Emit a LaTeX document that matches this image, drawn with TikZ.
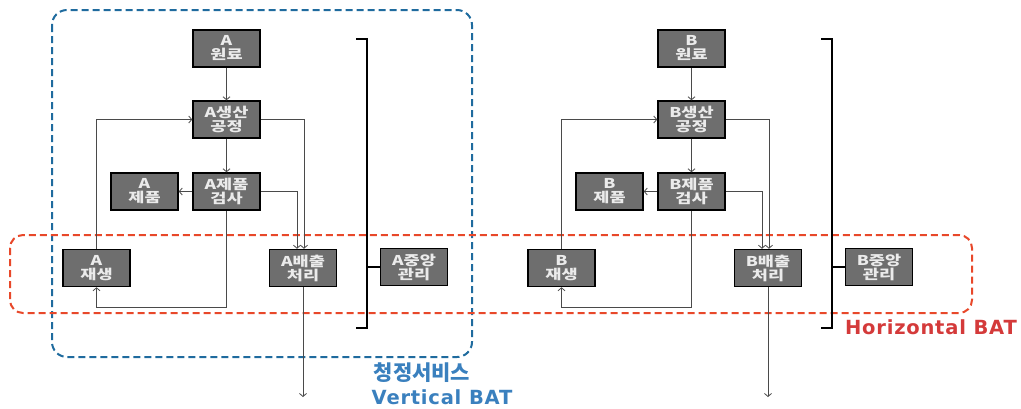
\documentclass[tikz,border=0pt]{standalone}
\usepackage{fontspec}
\newfontfamily\kr{Noto Sans CJK KR}[FakeStretch=1.3]
\newfontfamily\krlab{Noto Sans CJK KR}
\newfontfamily\dv{DejaVu Sans}[LetterSpace=4]
\usetikzlibrary{arrows.meta}
\definecolor{boxgray}{HTML}{6E6E6E}
\definecolor{linegray}{HTML}{4A4A4A}
\definecolor{vblue}{HTML}{1F6B9E}
\definecolor{lblue}{HTML}{3A80BE}
\definecolor{hred}{HTML}{E8482A}
\definecolor{lred}{HTML}{D43A3A}
\begin{document}
\begin{tikzpicture}[x=1pt,y=-1pt,
  box/.style={draw=black,line width=1.5pt,fill=boxgray,minimum width=67pt,minimum height=37pt,inner sep=0pt,align=center,text=white!92!black,font=\kr\bfseries\fontsize{13.5}{14}\selectfont},
  conn/.style={draw=linegray,line width=0.8pt},
  arr/.style={conn,-{Straight Barb[length=3pt,width=7pt]}},
  brk/.style={draw=black,line width=2pt},
  vbox/.style={draw=vblue,line width=2pt,dash pattern=on 7pt off 4pt,rounded corners=15pt},
  hbox/.style={draw=hred,line width=2pt,dash pattern=on 7pt off 4pt,rounded corners=13pt},
]
\useasboundingbox (0,0) rectangle (1021,408);
\draw[vbox] (52,10) rectangle (472,357);
\draw[hbox] (10,235) rectangle (972,313);
\foreach \X/\dx in {A/0,B/465}{
\begin{scope}[xshift=\dx pt]
  \node[box] (\X raw)  at (226.5,48.5) {\X\\원료};
  \node[box] (\X prod) at (226.5,119.5) {\X{}생산\\공정};
  \node[box] (\X insp) at (226.5,191.5) {\X{}제품\\검사};
  \node[box] (\X prd)  at (144.5,191.5) {\X\\제품};
  \node[box] (\X reg)  at (96.5,268) {\X\\재생};
  \node[box] (\X emi)  at (303,268) {\X{}배출\\처리};
  \node[box] (\X cen)  at (414,267) {\X{}중앙\\관리};
  \coordinate (\X loop) at (226.5,307);
  \coordinate (\X out) at (303,397);
  \coordinate (\X bt) at (356,39);
  \coordinate (\X bb) at (356,328);
  \coordinate (\X bm) at (367,267);
  \draw[arr] (\X raw) -- (\X prod);
  \draw[arr] (\X prod) -- (\X insp);
  \draw[arr] (\X insp) -- (\X prd);
  \draw[arr] (\X prod.east) -| ([xshift=1pt]\X emi.north);
  \draw[arr] (\X insp.east) -| ([xshift=-6pt]\X emi.north);
  \draw[arr] (\X reg.north) |- (\X prod.west);
  \draw[arr] (\X insp.south) -- (\X loop) -| (\X reg.south);
  \draw[arr] (\X emi.south) -- (\X out);
  \draw[brk] (\X bt) -- ++(11,0) |- (\X bb);
  \draw[brk] (\X bm) -- (\X cen.west);
\end{scope}
}
\node[text=lblue,font=\krlab\bfseries\fontsize{21}{23}\selectfont] (cs) at (422,373) {청정서비스};
\node[text=lblue,font=\dv\bfseries\fontsize{19.5}{21}\selectfont] (vb) at (442,397) {Vertical BAT};
\node[text=lred,font=\dv\bfseries\fontsize{19.5}{21}\selectfont] (hb) at (931,327) {Horizontal BAT};
\end{tikzpicture}
\end{document}
